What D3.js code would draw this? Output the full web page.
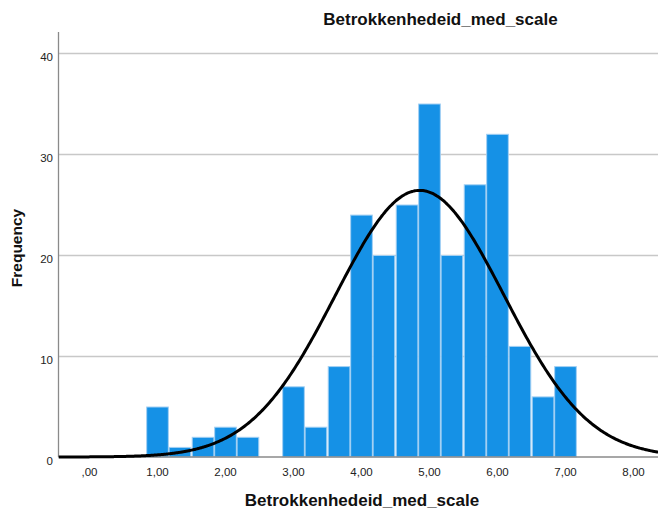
<!DOCTYPE html>
<html>
<head>
<meta charset="utf-8">
<script src="https://cdn.jsdelivr.net/npm/d3@7/dist/d3.min.js"></script>
<style>
  html, body { margin: 0; padding: 0; background: #fff; }
  svg { display: block; font-family: "Liberation Sans", Arial, sans-serif; }
</style>
</head>
<body>
<svg id="chart" width="658" height="514"></svg>
<script>
// ---- data ----
const chartTitle = "Betrokkenhedeid_med_scale";
const xTitle = "Betrokkenhedeid_med_scale";
const yTitle = "Frequency";
const binCenters = [1.00, 1.33, 1.67, 2.00, 2.33, 2.67, 3.00, 3.33, 3.67, 4.00,
                    4.33, 4.67, 5.00, 5.33, 5.67, 6.00, 6.33, 6.67, 7.00];
const binCounts  = [5, 1, 2, 3, 2, 0, 7, 3, 9, 24,
                    20, 25, 35, 20, 27, 32, 11, 6, 9];
const binWidth = 1 / 3;
const xTickValues = [0, 1, 2, 3, 4, 5, 6, 7, 8];
const xTickLabels = [",00", "1,00", "2,00", "3,00", "4,00", "5,00", "6,00", "7,00", "8,00"];
const yTickValues = [0, 10, 20, 30, 40];
const yTickLabels = ["0", "10", "20", "30", "40"];
// fitted normal curve parameters (as drawn)
const curveMean = 4.856;
const curveSD = 1.24;
const curveScale = 82.05; // N x bin width as displayed

// ---- layout ----
const svg = d3.select("#chart");
const plotLeft = 58.5, plotRight = 658, plotTop = 32, plotBottom = 457;

const x = d3.scaleLinear().domain([0, 8]).range([89.5, 633.5]);
const y = d3.scaleLinear().domain([0, 40]).range([457, 53]);

// gridlines
svg.append("g").selectAll("line")
  .data(yTickValues.filter(v => v > 0))
  .join("line")
  .attr("x1", plotLeft).attr("x2", plotRight)
  .attr("y1", d => Math.round(y(d)) + 0.5).attr("y2", d => Math.round(y(d)) + 0.5)
  .attr("stroke", "#c8c8c8").attr("stroke-width", 1.3);

// bars
svg.append("g").selectAll("rect")
  .data(binCenters.map((c, i) => ({c, n: binCounts[i]})).filter(d => d.n > 0))
  .join("rect")
  .attr("x", d => x(d.c - binWidth / 2) + 0.5)
  .attr("width", d => x(d.c + binWidth / 2) - x(d.c - binWidth / 2) - 1)
  .attr("y", d => y(d.n) + 0.5)
  .attr("height", d => y(0) - y(d.n) - 0.5)
  .attr("fill", "#1591e6")
  .attr("stroke", "#a3d0f3")
  .attr("stroke-width", 1);

// axis lines
svg.append("line")
  .attr("x1", plotLeft).attr("x2", plotLeft)
  .attr("y1", plotTop).attr("y2", plotBottom)
  .attr("stroke", "#8a8a8a").attr("stroke-width", 1.3);
svg.append("line")
  .attr("x1", plotLeft).attr("x2", plotRight)
  .attr("y1", plotBottom).attr("y2", plotBottom)
  .attr("stroke", "#8a8a8a").attr("stroke-width", 1.3);

// normal curve
const x0 = x.invert(plotLeft), x1 = x.invert(plotRight);
const curvePts = d3.range(x0, x1 + 0.01, 0.02).map(v => {
  const z = (v - curveMean) / curveSD;
  return [v, curveScale / (curveSD * Math.sqrt(2 * Math.PI)) * Math.exp(-0.5 * z * z)];
});
svg.append("defs").append("clipPath").attr("id", "clip")
  .append("rect").attr("x", plotLeft).attr("y", 0)
  .attr("width", plotRight - plotLeft).attr("height", plotBottom + 2);
svg.append("path")
  .datum(curvePts)
  .attr("clip-path", "url(#clip)")
  .attr("fill", "none")
  .attr("stroke", "#000")
  .attr("stroke-width", 3)
  .attr("d", d3.line().x(d => x(d[0])).y(d => y(d[1])).curve(d3.curveBasis));

// y tick labels
const yAxis = d3.axisLeft(y).tickValues(yTickValues)
  .tickFormat((d, i) => yTickLabels[i]).tickSize(0).tickPadding(0);
const gy = svg.append("g").attr("transform", `translate(53,0)`).call(yAxis);
gy.select(".domain").remove();
gy.selectAll("text")
  .attr("font-family", "Liberation Sans, Arial, sans-serif")
  .attr("font-size", 11.5).attr("fill", "#222")
  .attr("dy", null).attr("y", 7).attr("x", 0);

// x tick labels
const xAxis = d3.axisBottom(x).tickValues(xTickValues)
  .tickFormat((d, i) => xTickLabels[i]).tickSize(0).tickPadding(0);
const gx = svg.append("g").attr("transform", `translate(-0.5,0)`).call(xAxis);
gx.select(".domain").remove();
gx.selectAll("text")
  .attr("font-family", "Liberation Sans, Arial, sans-serif")
  .attr("font-size", 11.5).attr("fill", "#222")
  .attr("dy", null).attr("y", 475.5);

// titles
svg.append("text")
  .attr("x", 440.5).attr("y", 24.5)
  .attr("text-anchor", "middle")
  .attr("font-size", 17).attr("font-weight", "bold").attr("fill", "#111")
  .text(chartTitle);
svg.append("text")
  .attr("x", 362).attr("y", 506)
  .attr("text-anchor", "middle")
  .attr("font-size", 17).attr("font-weight", "bold").attr("fill", "#111")
  .text(xTitle);
svg.append("text")
  .attr("transform", "translate(21.5,248) rotate(-90)")
  .attr("text-anchor", "middle")
  .attr("font-size", 15.5).attr("font-weight", "bold").attr("fill", "#111")
  .text(yTitle);
</script>
</body>
</html>
